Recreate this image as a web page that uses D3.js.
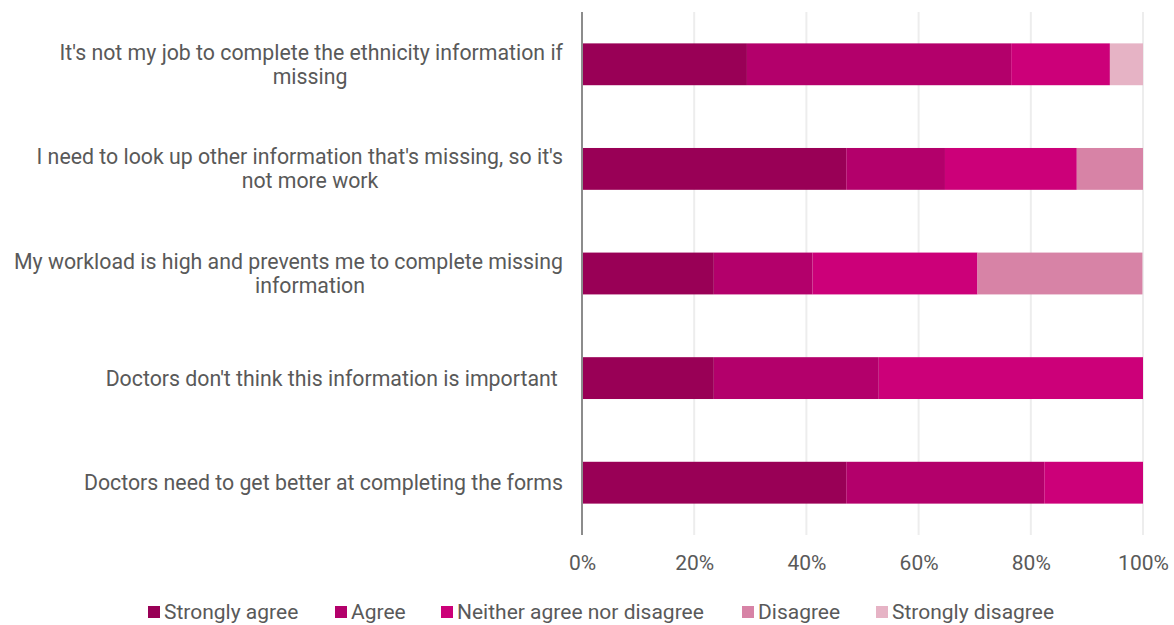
<!DOCTYPE html>
<html><head><meta charset="utf-8">
<script src="https://cdn.jsdelivr.net/npm/d3@7"></script>
<style>body{margin:0;background:#fff;} svg{display:block;font-family:Roboto,"Noto Sans",sans-serif;}</style>
</head><body>
<svg id="chart" width="1174" height="625"></svg>
<script>
const categories = [
  ["It's not my job to complete the ethnicity information if", "missing"],
  ["I need to look up other information that's missing, so it's", "not more work"],
  ["My workload is high and prevents me to complete missing", "information"],
  ["Doctors don't think this information is important "],
  ["Doctors need to get better at completing the forms"]
];
const seriesNames = ["Strongly agree","Agree","Neither agree nor disagree","Disagree","Strongly disagree"];
const stronglyAgree = [29.4, 47.1, 23.5, 23.5, 47.1];
const agree         = [47.1, 17.6, 17.6, 29.4, 35.3];
const neither       = [17.6, 23.5, 29.4, 47.1, 17.6];
const disagree      = [0,    11.8, 29.4, 0,    0];
const stronglyDis   = [5.9,  0,    0,    0,    0];
const tickValues = [0, 20, 40, 60, 80, 100];
const colors = ["#990056","#b3006b","#cc0079","#d783a6","#e6b3c5"];

const svg = d3.select("#chart");
const x = d3.scaleLinear().domain([0,100]).range([582,1143]);
const y = d3.scaleBand().domain(d3.range(categories.length)).range([12,535]).paddingInner(0.6).paddingOuter(0.3);

const rows = categories.map((c,i)=>({i, "Strongly agree":stronglyAgree[i], "Agree":agree[i],
  "Neither agree nor disagree":neither[i], "Disagree":disagree[i], "Strongly disagree":stronglyDis[i]}));
const stack = d3.stack().keys(seriesNames)(rows);

// gridlines
svg.append("g").selectAll("line").data(tickValues.slice(1)).join("line")
  .attr("x1",d=>x(d)).attr("x2",d=>x(d)).attr("y1",12).attr("y2",535)
  .attr("stroke","#ededed").attr("stroke-width",2);

// bars
svg.append("g").selectAll("g").data(stack).join("g")
  .attr("fill",(d,i)=>colors[i])
  .selectAll("rect").data(d=>d).join("rect")
  .attr("x",d=>x(d[0])).attr("width",d=>x(d[1])-x(d[0]))
  .attr("y",d=>y(d.data.i)).attr("height",y.bandwidth());

// axis line
svg.append("line").attr("x1",582).attr("x2",582).attr("y1",12).attr("y2",535)
  .attr("stroke","#8c8c8c").attr("stroke-width",2);

// x tick labels
const xAxis = d3.axisBottom(x).tickValues(tickValues).tickFormat(d=>d+"%").tickSize(0).tickPadding(0);
const gx = svg.append("g").attr("transform","translate(0,563)").call(xAxis);
gx.select(".domain").remove();
gx.selectAll("text").attr("font-size",21).attr("fill","#595959").attr("font-family","Roboto").attr("dy","0.35em");

// category labels
const lab = svg.append("g").attr("font-size",21.3).attr("fill","#595959");
categories.forEach((lines,i)=>{
  const cy = y(i)+y.bandwidth()/2;
  if(lines.length===1){
    lab.append("text").attr("x",563).attr("y",cy).attr("dy","0.35em").attr("text-anchor","end").attr("xml:space","preserve").style("white-space","pre").text(lines[0]);
  } else {
    lab.append("text").attr("x",563).attr("y",cy-12).attr("dy","0.35em").attr("text-anchor","end").text(lines[0]);
    lab.append("text").attr("x",310).attr("y",cy+12).attr("dy","0.35em").attr("text-anchor","middle").text(lines[1]);
  }
});

// legend
const legX = [148, 335, 441, 742, 876];
const leg = svg.append("g").attr("font-size",21).attr("fill","#595959");
seriesNames.forEach((n,i)=>{
  leg.append("rect").attr("x",legX[i]).attr("y",606).attr("width",12).attr("height",12).attr("fill",colors[i]);
  leg.append("text").attr("x",legX[i]+16).attr("y",612).attr("dy","0.35em").text(n);
});
</script>
</body></html>
